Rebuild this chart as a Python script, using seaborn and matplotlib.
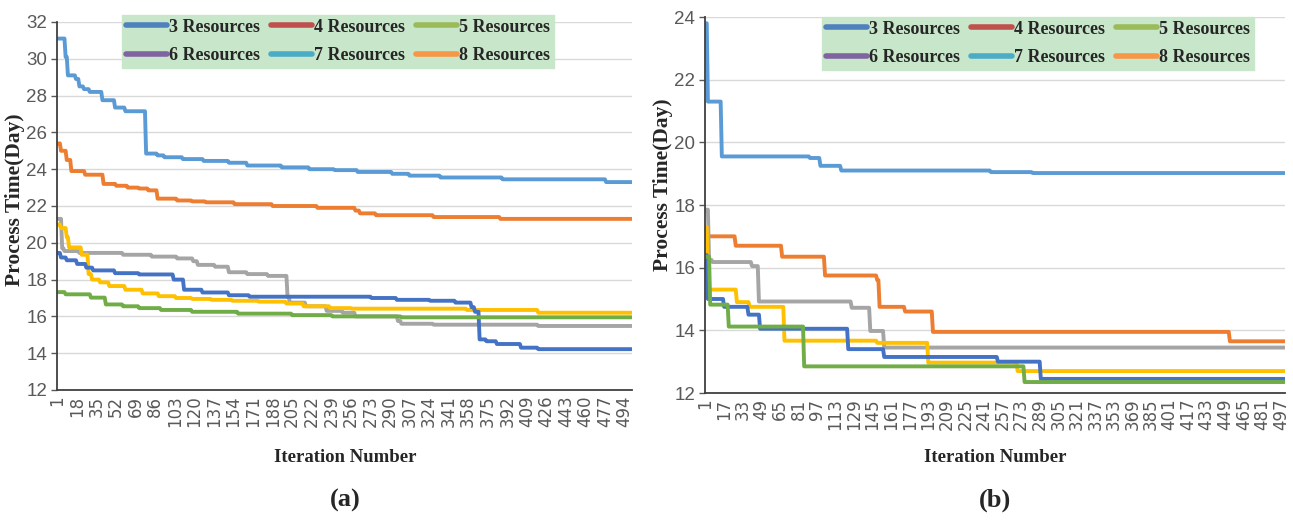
import numpy as np
import pandas as pd
import seaborn as sns
import matplotlib.pyplot as plt
from matplotlib.lines import Line2D

# ---------------- data ----------------
SERIES = ["3 Resources", "4 Resources", "5 Resources",
          "6 Resources", "7 Resources", "8 Resources"]
LINE_COLORS = ["#5b9bd5", "#ed7d31", "#a5a5a5", "#ffc000", "#4472c4", "#70ad47"]
LEGEND_COLORS = ["#4f81bd", "#c0504d", "#9bbb59", "#8064a2", "#4bacc6", "#f79646"]
N_ITER = 500
A_XLABELS = list(range(1, N_ITER + 1, 17))
B_XLABELS = list(range(1, N_ITER + 1, 16))
A_YTICKS = list(range(12, 33, 2))
B_YTICKS = list(range(12, 25, 2))

# panel (a): step start iterations and values
A3_START = [1, 8, 10, 17, 20, 24, 29, 40, 51, 60, 78, 88, 94, 110, 128, 150, 166, 196, 220, 242, 262, 292, 307, 334, 388, 478]
A3_VAL = [31.1, 30.1, 29.1, 28.9, 28.5, 28.35, 28.2, 27.75, 27.35, 27.15, 24.85, 24.75, 24.65, 24.55, 24.45, 24.35, 24.2, 24.1, 24.0, 23.95, 23.85, 23.75, 23.65, 23.55, 23.45, 23.3]
A4_START = [1, 4, 9, 13, 25, 41, 52, 62, 72, 80, 88, 105, 118, 130, 155, 188, 227, 260, 264, 278, 328, 386]
A4_VAL = [25.4, 25.0, 24.5, 23.9, 23.7, 23.2, 23.1, 23.0, 22.95, 22.85, 22.4, 22.3, 22.25, 22.2, 22.1, 22.0, 21.9, 21.75, 21.6, 21.5, 21.4, 21.3]
A5_START = [1, 5, 7, 20, 58, 83, 105, 119, 123, 138, 150, 166, 184, 201, 203, 217, 235, 249, 260, 297, 300, 328, 419]
A5_VAL = [21.3, 19.7, 19.55, 19.45, 19.35, 19.25, 19.15, 19.0, 18.8, 18.7, 18.4, 18.3, 18.2, 17.05, 16.75, 16.55, 16.3, 16.2, 16.0, 15.75, 15.6, 15.55, 15.48]
A6_START = [1, 4, 9, 11, 22, 28, 31, 38, 46, 60, 75, 89, 104, 118, 135, 153, 176, 200, 215, 238, 257, 357, 419]
A6_VAL = [21.0, 20.8, 20.3, 19.75, 19.35, 18.3, 18.0, 17.85, 17.65, 17.45, 17.25, 17.1, 17.0, 16.95, 16.9, 16.85, 16.8, 16.7, 16.55, 16.45, 16.42, 16.35, 16.2]
A7_START = [1, 4, 9, 18, 26, 32, 51, 72, 102, 111, 127, 150, 168, 274, 296, 325, 347, 361, 364, 368, 374, 383, 404, 419]
A7_VAL = [19.45, 19.2, 19.05, 18.85, 18.65, 18.5, 18.35, 18.28, 18.0, 17.45, 17.3, 17.15, 17.07, 17.0, 16.9, 16.85, 16.75, 16.5, 16.25, 14.75, 14.65, 14.5, 14.3, 14.22]
A8_START = [1, 8, 30, 43, 58, 72, 91, 118, 158, 205, 240, 300]
A8_VAL = [17.32, 17.2, 17.02, 16.65, 16.55, 16.45, 16.35, 16.25, 16.15, 16.07, 16.0, 15.95]

# panel (b)
B3_START = [1, 3, 15, 91, 100, 118, 247, 283]
B3_VAL = [23.8, 21.3, 19.55, 19.5, 19.25, 19.1, 19.05, 19.02]
B4_START = [1, 27, 67, 104, 149, 151, 173, 197, 453]
B4_VAL = [17.0, 16.7, 16.35, 15.75, 15.6, 14.75, 14.6, 13.95, 13.65]
B5_START = [1, 4, 7, 41, 47, 127, 143, 155]
B5_VAL = [17.85, 16.25, 16.18, 16.05, 14.92, 14.72, 13.98, 13.45]
B6_START = [1, 3, 28, 39, 69, 149, 193, 270]
B6_VAL = [17.3, 15.3, 14.9, 14.75, 13.67, 13.6, 12.97, 12.7]
B7_START = [1, 3, 17, 38, 48, 124, 155, 253, 290]
B7_VAL = [16.4, 15.0, 14.75, 14.5, 14.05, 13.4, 13.15, 13.0, 12.45]
B8_START = [1, 5, 21, 86, 276]
B8_VAL = [16.35, 14.82, 14.12, 12.85, 12.35]

PANEL_A = [(A3_START, A3_VAL), (A4_START, A4_VAL), (A5_START, A5_VAL),
           (A6_START, A6_VAL), (A7_START, A7_VAL), (A8_START, A8_VAL)]
PANEL_B = [(B3_START, B3_VAL), (B4_START, B4_VAL), (B5_START, B5_VAL),
           (B6_START, B6_VAL), (B7_START, B7_VAL), (B8_START, B8_VAL)]


def build_frame(panel):
    it = np.arange(1, N_ITER + 1)
    rows = []
    for name, (starts, vals) in zip(SERIES, panel):
        idx = np.searchsorted(np.array(starts), it, side="right") - 1
        y = np.array(vals)[idx]
        rows.append(pd.DataFrame({"Iteration": it, "Time": y, "Series": name}))
    return pd.concat(rows, ignore_index=True)


df_a = build_frame(PANEL_A)
df_b = build_frame(PANEL_B)

# ---------------- style ----------------
sns.set_style("white")
plt.rcParams["font.family"] = ["DejaVu Sans"]

W, H = 1293, 520
fig = plt.figure(figsize=(W / 100, H / 100), dpi=100)


def px_axes(x0, x1, ytop, ybot):
    return fig.add_axes([x0 / W, 1 - ybot / H, (x1 - x0) / W, (ybot - ytop) / H])


ax_a = px_axes(57, 632, 22, 390)
ax_b = px_axes(705, 1285, 17, 393)

SERIF = ["Liberation Serif", "DejaVu Serif"]
NARROW = ["Liberation Sans Narrow", "Liberation Sans", "DejaVu Sans"]
TICK_GRAY = "#595959"


def style_axes(ax, df, ylim, yticks, xlabels, mark_step):
    sns.lineplot(data=df, x="Iteration", y="Time", hue="Series",
                 hue_order=SERIES, palette=LINE_COLORS, lw=2.8,
                 legend=False, ax=ax, estimator=None,
                 solid_capstyle="round")
    ax.set_xlim(0.5, N_ITER + 0.5)
    ax.set_ylim(*ylim)
    ax.set_yticks(yticks)
    ax.set_yticklabels([str(v) for v in yticks], family=NARROW,
                       fontsize=13.5, color=TICK_GRAY)
    ax.set_xticks(xlabels)
    ax.set_xticklabels([str(v) for v in xlabels], rotation=90,
                       fontsize=12, color=TICK_GRAY)
    ax.set_xticks(np.arange(0.5, N_ITER + 1, mark_step), minor=True)
    ax.tick_params(axis="x", which="major", length=0, pad=4)
    ax.tick_params(axis="x", which="minor", length=5, direction="in",
                   width=1.2, color="#404040")
    ax.tick_params(axis="y", which="major", length=4, direction="out",
                   width=1, color=TICK_GRAY, pad=3, left=True)
    ax.grid(axis="y", color="#d9d9d9", lw=1)
    ax.grid(axis="x", visible=False)
    for s in ["top", "right"]:
        ax.spines[s].set_visible(False)
    for s in ["left", "bottom"]:
        ax.spines[s].set_color("#404040")
        ax.spines[s].set_linewidth(1.3)
    ax.set_xlabel("")
    ax.set_ylabel("")


style_axes(ax_a, df_a, (12, 32), A_YTICKS, A_XLABELS, 20)
style_axes(ax_b, df_b, (12, 24), B_YTICKS, B_XLABELS, 10)

# legends (pasted-style, with their own colours)
order = [0, 3, 1, 4, 2, 5]
handles = [Line2D([0], [0], color=LEGEND_COLORS[i], lw=4, solid_capstyle="round")
           for i in order]
labels = [SERIES[i] for i in order]
for ax, (lx, ly) in [(ax_a, (122, 15)), (ax_b, (822, 17))]:
    leg = fig.legend(handles, labels, loc="upper left",
                     bbox_to_anchor=(lx / W, 1 - ly / H), ncol=3,
                     frameon=True, fancybox=False, framealpha=1,
                     facecolor="#c8e6c9", edgecolor="#c8e6c9",
                     prop={"family": SERIF, "weight": "bold", "size": 13},
                     handlelength=2.3, handletextpad=0.1, columnspacing=0.6,
                     labelspacing=0.65, borderpad=0.2, borderaxespad=0)

# axis titles and panel labels
for cx, ly_x, ly_y, tag in [(345, 15, 200, "(a)"), (995, 663, 185, "(b)")]:
    fig.text(ly_x / W, 1 - ly_y / H, "Process Time(Day)", rotation=90,
             ha="center", va="center", family=SERIF, weight="bold", fontsize=15.5)
    fig.text(cx / W, 1 - 457 / H, "Iteration Number", ha="center", va="center",
             family=SERIF, weight="bold", fontsize=13.5)
    fig.text(cx / W, 1 - 500 / H, tag, ha="center", va="center",
             family=SERIF, weight="bold", fontsize=19)

fig.savefig("out.png", dpi=100, facecolor="white")
